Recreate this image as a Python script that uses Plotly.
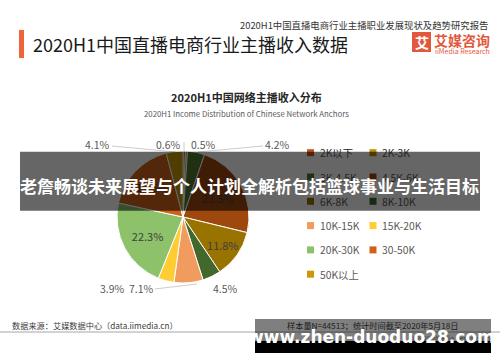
import plotly.graph_objects as go

W, H = 500, 362
FONT = "Noto Sans CJK SC, Noto Sans, sans-serif"

# ---------------- data ----------------
categories = ["2K以下", "2K-3K", "3K-4.5K", "4.5K-6K", "6K-8K", "8K-10K",
              "10K-15K", "15K-20K", "20K-30K", "30-50K", "50K以上"]
shares = [0.6, 0.5, 4.2, 23.5, 11.8, 4.5, 7.1, 3.9, 22.3, 17.5, 4.1]
colors = ["#C0571A", "#BF9000", "#4E7A2E", "#9E480E", "#997300", "#43682B",
          "#F29B5E", "#FFCC33", "#8DC26B", "#D0611A", "#C99A06"]
inside_cats = ["4.5K-6K", "6K-8K", "20K-30K", "30-50K"]

# label positions (pixels) for the slices labelled outside the pie
outside_pos = {"50K以上": (97, 144.5), "2K以下": (168, 144.5), "2K-3K": (203, 144.5),
               "3K-4.5K": (277, 144.5), "15K-20K": (112, 288.5),
               "10K-15K": (141.5, 288.5), "8K-10K": (225, 288.5)}

def X(px):
    return px / W

def Y(py):
    return 1 - py / H

def dim(hexcol, a):
    hexcol = hexcol.lstrip("#")
    r, g, b = (int(hexcol[i:i + 2], 16) for i in (0, 2, 4))
    return "rgb(%d,%d,%d)" % (r * (1 - a), g * (1 - a), b * (1 - a))

texts = [f"{v}%" if c in inside_cats else "" for c, v in zip(categories, shares)]

# pie geometry: centre (183,217) radius 66 px
cx, cy, r = 183, 217, 66

fig = go.Figure(go.Pie(
    labels=categories, values=shares, sort=False, direction="clockwise", rotation=0,
    marker=dict(colors=colors, line=dict(color="white", width=1)),
    text=texts, textinfo="text", textposition="inside",
    insidetextorientation="horizontal",
    insidetextfont=dict(family=FONT, size=11, color="#404040"),
    domain=dict(x=[X(cx - r), X(cx + r)], y=[Y(cy + r), Y(cy - r)]),
    showlegend=False, hoverinfo="label+percent",
))

shapes = []
anns = []

def ann(text, x, y, size, color="#595959", xanchor="center", family=FONT, **kw):
    anns.append(dict(text=text, x=X(x), y=Y(y), xref="paper", yref="paper",
                     xanchor=xanchor, yanchor="middle", showarrow=False,
                     font=dict(family=family, size=size, color=color), **kw))

def line(x0, y0, x1, y1, color="#BFBFBF", width=0.8):
    shapes.append(dict(type="line", xref="paper", yref="paper", x0=X(x0), y0=Y(y0),
                       x1=X(x1), y1=Y(y1), line=dict(color=color, width=width), layer="above"))

def rect(x0, y0, x1, y1, fill, layer="above"):
    shapes.append(dict(type="rect", xref="paper", yref="paper", x0=X(x0), y0=Y(y0),
                       x1=X(x1), y1=Y(y1), fillcolor=fill, line=dict(width=0), layer=layer))

# header
rect(19, 30, 24, 58, "#F0643C")
ann("2020H1中国直播电商行业主播收入数据", 31, 44, 18, "#1A1A1A", xanchor="left")
ann("2020H1中国直播电商行业主播职业发展现状及趋势研究报告", 490, 25, 9.4, "#333333", xanchor="right")
rect(412, 32, 431, 52, "#E2583E")
ann("<b>艾</b>", 421.5, 42, 14, "white")
ann("<b>艾媒咨询</b>", 432, 40, 14, "#E2583E", xanchor="left")
ann("iiMedia Research", 433, 50.5, 7, "#E2583E", xanchor="left")

# chart titles
ann("<b>2020H1中国网络主播收入分布</b>", 246, 97, 11, "#262626")
ann("2020H1 Income Distribution of Chinese Network Anchors", 246, 113, 7.8, "#595959")

# outside labels + leader lines
for c, v in zip(categories, shares):
    if c in outside_pos:
        px, py = outside_pos[c]
        ann(f"{v}%", px, py, 10.5, "#595959")
line(112, 146, 176, 152)
line(184, 142, 184, 152)
line(263, 146, 198, 152)
line(155, 289, 197, 284)

# legend (two columns)
col_x = [310.5, 373]
row_y0, row_dy = 152.7, 24.3
overlay_top, overlay_bot, overlay_a = 151.7, 210.7, 0.6
for i, (c, col) in enumerate(zip(categories, colors)):
    sx = col_x[i % 2]
    sy = row_y0 + (i // 2) * row_dy
    rect(sx - 3.5, sy - 3.5, sx + 3.5, sy + 3.5, col)
    tc = "#595959"
    if overlay_top <= sy <= overlay_bot:
        tc = dim(tc, overlay_a)
    ann(c, sx + 7, sy, 10.3, tc, xanchor="left")

# footer
line(0, 332, 500, 332, "#A6A6A6", 1)
ann("数据来源：艾媒数据中心（data.iimedia.cn）", 10, 325, 8.2, "#404040", xanchor="left")
ann("样本量N=44513；统计时间截至2020年5月18日", 372, 324.5, 8.2, dim("#404040", 0.5))
ann("©2020 iiMedia Research Inc", 497, 338, 6.5, dim("#7F7F7F", 0.5), xanchor="right")

# watermark overlays
rect(20, overlay_top, 480, overlay_bot, "rgba(0,0,0,0.6)")
ann("<b>老詹畅谈未来展望与个人计划全解析包括篮球事业与生活目标</b>", 249, 185, 17, "white")
rect(255, 319, 491, 341, "rgba(0,0,0,0.5)")
rect(255, 341, 491, 353, "black")
ann("<b>www.zhen-duoduo28.com</b>", 371, 337, 17, "white", family="DejaVu Sans, sans-serif")

fig.update_layout(
    width=W, height=H, margin=dict(l=0, r=0, t=0, b=0),
    paper_bgcolor="white", plot_bgcolor="white",
    shapes=shapes, annotations=anns,
)

fig.write_html("out.html", config={"displayModeBar": False},
               post_script="document.body.style.margin='0';")
